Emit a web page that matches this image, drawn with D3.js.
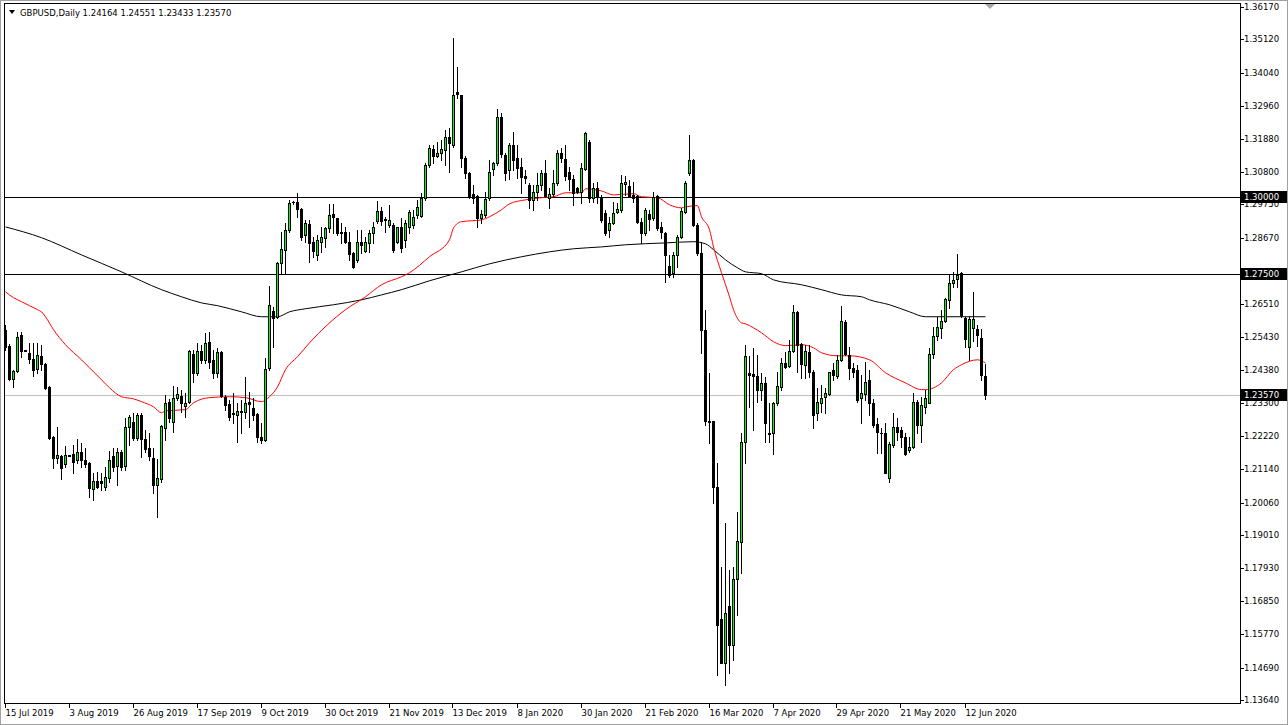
<!DOCTYPE html>
<html><head><meta charset="utf-8">
<script src="https://cdn.jsdelivr.net/npm/d3@7"></script>
<style>
html,body{margin:0;padding:0;background:#fff;overflow:hidden;}
svg{display:block;}
text{font-family:"DejaVu Sans",sans-serif;font-size:8.5px;fill:#000;}
</style></head><body>
<svg id="c" width="1288" height="725"></svg>
<script>
const symbolTitle = "GBPUSD,Daily";
const lastQuote = ["1.24164","1.24551","1.23433","1.23570"];

const opens = [1.2568,1.2516,1.2408,1.2434,1.2551,1.2503,1.2493,1.2473,1.2441,1.2483,1.2457,1.2382,1.2220,1.2152,1.2158,1.2132,1.2161,1.2165,1.2145,1.2171,
1.2145,1.2135,1.2051,1.2077,1.2077,1.2057,1.2087,1.2158,1.2126,1.2171,1.2126,1.2252,1.2269,1.2217,1.2291,1.2213,1.2184,1.2152,1.2064,1.2083,
1.2249,1.2334,1.2269,1.2347,1.2353,1.2321,1.2334,1.2490,1.2428,1.2499,1.2470,1.2529,1.2470,1.2428,1.2496,1.2350,1.2327,1.2298,1.2291,1.2304,
1.2301,1.2334,1.2314,1.2295,1.2220,1.2210,1.2444,1.2629,1.2610,1.2785,1.2828,1.2893,1.2984,1.2984,1.2961,1.2876,1.2912,1.2854,1.2811,1.2854,
1.2867,1.2899,1.2945,1.2932,1.2886,1.2886,1.2854,1.2818,1.2795,1.2854,1.2824,1.2850,1.2883,1.2922,1.2954,1.2928,1.2909,1.2909,1.2854,1.2902,
1.2860,1.2902,1.2909,1.2941,1.2938,1.2997,1.3104,1.3156,1.3133,1.3143,1.3153,1.3195,1.3169,1.3341,1.3331,1.3127,1.3078,1.3010,1.3003,1.2932,
1.2941,1.2997,1.3091,1.3110,1.3260,1.3136,1.3088,1.3169,1.3127,1.3097,1.3068,1.3039,1.2990,1.3016,1.3039,1.3078,1.2997,1.3010,1.3045,1.3143,
1.3123,1.3081,1.3058,1.3029,1.3016,1.3091,1.3179,1.2997,1.3029,1.3000,1.2948,1.2893,1.2915,1.2951,1.2958,1.3042,1.3036,1.3006,1.3003,1.2919,
1.2883,1.2945,1.2932,1.3003,1.2902,1.2883,1.2776,1.2753,1.2811,1.2870,1.2951,1.3078,1.3120,1.2909,1.2818,1.2568,1.2272,1.2272,1.2057,1.1628,
1.1485,1.1671,1.1544,1.1757,1.1879,1.2204,1.2428,1.2425,1.2418,1.2373,1.2395,1.2233,1.2233,1.2330,1.2382,1.2460,1.2451,1.2499,1.2626,1.2522,
1.2454,1.2496,1.2431,1.2298,1.2330,1.2350,1.2360,1.2438,1.2418,1.2470,1.2594,1.2486,1.2444,1.2438,1.2347,1.2360,1.2405,1.2330,1.2262,1.2233,
1.2233,1.2087,1.2194,1.2252,1.2243,1.2220,1.2178,1.2187,1.2334,1.2259,1.2317,1.2330,1.2490,1.2548,1.2574,1.2597,1.2665,1.2720,1.2733,1.2753,
1.2607,1.2512,1.2574,1.2571,1.2542,1.24164];

const highs = [1.2584,1.2522,1.2438,1.2561,1.2561,1.2503,1.2525,1.2525,1.2525,1.2519,1.2460,1.2386,1.2223,1.2252,1.2161,1.2191,1.2161,1.2194,1.2213,1.2200,
1.2184,1.2139,1.2103,1.2106,1.2103,1.2122,1.2174,1.2184,1.2184,1.2178,1.2282,1.2291,1.2298,1.2298,1.2298,1.2243,1.2233,1.2184,1.2148,1.2259,
1.2356,1.2343,1.2386,1.2382,1.2373,1.2363,1.2503,1.2503,1.2525,1.2519,1.2558,1.2561,1.2503,1.2509,1.2499,1.2356,1.2340,1.2363,1.2330,1.2340,
1.2415,1.2366,1.2347,1.2298,1.2265,1.2477,1.2711,1.2642,1.2789,1.2886,1.2915,1.2990,1.2987,1.3013,1.2964,1.2925,1.2925,1.2870,1.2876,1.2902,
1.2902,1.2977,1.2977,1.2932,1.2915,1.2902,1.2886,1.2821,1.2893,1.2893,1.2870,1.2893,1.2919,1.2987,1.2967,1.2935,1.2974,1.2915,1.2902,1.2932,
1.2925,1.2958,1.2958,1.2990,1.3013,1.3110,1.3169,1.3169,1.3179,1.3185,1.3218,1.3224,1.3517,1.3422,1.3331,1.3133,1.3081,1.3039,1.3006,1.2958,
1.3016,1.3120,1.3114,1.3286,1.3273,1.3143,1.3175,1.3211,1.3169,1.3127,1.3088,1.3045,1.3039,1.3078,1.3088,1.3120,1.3029,1.3088,1.3153,1.3159,
1.3169,1.3097,1.3071,1.3032,1.3110,1.3211,1.3185,1.3045,1.3049,1.3006,1.2958,1.2935,1.2984,1.2980,1.3071,1.3068,1.3055,1.3049,1.3006,1.2932,
1.2964,1.2958,1.3016,1.3006,1.2919,1.2886,1.2811,1.2821,1.2876,1.2964,1.3052,1.3201,1.3123,1.2915,1.2854,1.2633,1.2428,1.2272,1.2135,1.1797,
1.1940,1.1788,1.1797,1.1976,1.2233,1.2519,1.2483,1.2509,1.2486,1.2428,1.2415,1.2330,1.2334,1.2431,1.2477,1.2496,1.2535,1.2649,1.2629,1.2525,
1.2519,1.2519,1.2438,1.2379,1.2389,1.2379,1.2431,1.2460,1.2486,1.2646,1.2600,1.2512,1.2460,1.2454,1.2421,1.2464,1.2438,1.2343,1.2282,1.2249,
1.2265,1.2204,1.2298,1.2282,1.2252,1.2233,1.2220,1.2363,1.2340,1.2350,1.2373,1.2509,1.2577,1.2610,1.2633,1.2672,1.2746,1.2756,1.2815,1.2756,
1.2610,1.2610,1.2691,1.2584,1.2571,1.24551];

const lows = [1.2503,1.2405,1.2382,1.2431,1.2480,1.2499,1.2460,1.2418,1.2428,1.2438,1.2376,1.2213,1.2119,1.2135,1.2083,1.2122,1.2158,1.2103,1.2135,1.2122,
1.2122,1.2025,1.2015,1.2054,1.2048,1.2048,1.2074,1.2109,1.2064,1.2113,1.2113,1.2194,1.2210,1.2210,1.2155,1.2171,1.2145,1.2038,1.1960,1.2074,
1.2210,1.2269,1.2236,1.2340,1.2301,1.2285,1.2330,1.2399,1.2421,1.2460,1.2460,1.2444,1.2412,1.2415,1.2350,1.2308,1.2275,1.2265,1.2204,1.2233,
1.2282,1.2252,1.2275,1.2204,1.2200,1.2207,1.2438,1.2512,1.2607,1.2753,1.2753,1.2886,1.2977,1.2935,1.2860,1.2854,1.2789,1.2805,1.2795,1.2821,
1.2837,1.2886,1.2883,1.2876,1.2850,1.2850,1.2795,1.2769,1.2789,1.2818,1.2821,1.2821,1.2850,1.2915,1.2909,1.2886,1.2902,1.2821,1.2850,1.2821,
1.2837,1.2883,1.2899,1.2932,1.2935,1.2990,1.3097,1.3110,1.3130,1.3120,1.3104,1.3081,1.3162,1.3322,1.3097,1.3062,1.2997,1.2980,1.2902,1.2915,
1.2935,1.2990,1.3071,1.3104,1.3130,1.3055,1.3058,1.3088,1.3062,1.3013,1.3045,1.2964,1.2958,1.2990,1.3023,1.3000,1.2964,1.3003,1.3039,1.3114,
1.3055,1.3023,1.2974,1.3013,1.2980,1.3088,1.2984,1.2984,1.2980,1.2919,1.2876,1.2870,1.2912,1.2948,1.2951,1.3006,1.3000,1.2984,1.2915,1.2850,
1.2876,1.2893,1.2925,1.2893,1.2867,1.2724,1.2740,1.2740,1.2772,1.2867,1.2948,1.3071,1.2906,1.2811,1.2493,1.2259,1.2200,1.2005,1.1446,1.1485,
1.1414,1.1453,1.1495,1.1641,1.1778,1.2135,1.2317,1.2243,1.2334,1.2340,1.2204,1.2204,1.2165,1.2324,1.2373,1.2444,1.2447,1.2496,1.2431,1.2412,
1.2412,1.2415,1.2249,1.2275,1.2301,1.2298,1.2356,1.2405,1.2412,1.2467,1.2486,1.2408,1.2415,1.2334,1.2265,1.2340,1.2291,1.2252,1.2168,1.2168,
1.2103,1.2074,1.2187,1.2210,1.2187,1.2161,1.2171,1.2184,1.2233,1.2204,1.2298,1.2330,1.2477,1.2535,1.2542,1.2594,1.2639,1.2707,1.2707,1.2610,
1.2512,1.2470,1.2531,1.2516,1.2405,1.23433];

const closes = [1.2512,1.2408,1.2434,1.2545,1.2499,1.2499,1.2473,1.2438,1.2486,1.2457,1.2379,1.2217,1.2152,1.2161,1.2119,1.2161,1.2158,1.2139,1.2171,1.2145,
1.2132,1.2054,1.2077,1.2057,1.2070,1.2090,1.2145,1.2122,1.2171,1.2122,1.2252,1.2285,1.2217,1.2291,1.2213,1.2181,1.2158,1.2064,1.2087,1.2256,
1.2330,1.2282,1.2347,1.2360,1.2330,1.2330,1.2499,1.2428,1.2499,1.2470,1.2525,1.2464,1.2428,1.2496,1.2353,1.2324,1.2285,1.2295,1.2304,1.2301,
1.2330,1.2327,1.2291,1.2220,1.2210,1.2441,1.2649,1.2607,1.2785,1.2831,1.2893,1.2980,1.2982,1.2961,1.2870,1.2915,1.2850,1.2824,1.2860,1.2870,
1.2899,1.2941,1.2935,1.2883,1.2883,1.2854,1.2815,1.2772,1.2854,1.2844,1.2854,1.2883,1.2902,1.2954,1.2922,1.2925,1.2925,1.2828,1.2902,1.2834,
1.2915,1.2951,1.2935,1.2967,1.2997,1.3104,1.3159,1.3133,1.3143,1.3156,1.3195,1.3175,1.3331,1.3335,1.3127,1.3078,1.3003,1.2997,1.2932,1.2945,
1.2993,1.3081,1.3110,1.3260,1.3140,1.3078,1.3169,1.3120,1.3094,1.3065,1.3062,1.2990,1.3016,1.3039,1.3078,1.3003,1.3010,1.3045,1.3143,1.3127,
1.3068,1.3058,1.3013,1.3016,1.3094,1.3208,1.2997,1.3029,1.3000,1.2925,1.2883,1.2915,1.2948,1.2961,1.3045,1.3049,1.3003,1.2997,1.2919,1.2883,
1.2958,1.2928,1.3000,1.2899,1.2886,1.2811,1.2746,1.2811,1.2870,1.2954,1.3045,1.3120,1.2909,1.2818,1.2568,1.2272,1.2269,1.2057,1.1609,1.1485,
1.1648,1.1544,1.1757,1.1882,1.2204,1.2483,1.2421,1.2418,1.2373,1.2395,1.2265,1.2230,1.2330,1.2386,1.2460,1.2447,1.2499,1.2626,1.2519,1.2457,
1.2499,1.2431,1.2291,1.2334,1.2347,1.2363,1.2431,1.2421,1.2470,1.2597,1.2490,1.2444,1.2431,1.2340,1.2363,1.2399,1.2330,1.2259,1.2236,1.2231,
1.2103,1.2197,1.2252,1.2236,1.2220,1.2165,1.2187,1.2334,1.2259,1.2324,1.2347,1.2490,1.2548,1.2577,1.2597,1.2668,1.2720,1.2730,1.2746,1.2616,
1.2538,1.2603,1.2603,1.2551,1.2421,1.23570];

// Moving averages: bar index + value
const maRedBars   = [0,2,4,6,8,9,10,12,15,19,21,24,26,29,32,34,37,39,40,45,47,51,56,60,64,66,68,70,73,76,85,90,94,99,101,106,111,112,114,119,121,124,126,130,134,137,140,144,145,149,152,157,159,163,166,169,170,173,174,176,177,179,181,182,184,185,187,189,192,195,199,202,204,208,211,216,220,225,229,230,234,237,239,243,245];
const maRedValues = [1.2691,1.2672,1.2659,1.2646,1.2633,1.2626,1.2610,1.2568,1.2519,1.2470,1.2444,1.2405,1.2379,1.2350,1.2343,1.2334,1.2317,1.2298,1.2304,1.2308,1.2330,1.2347,1.2350,1.2347,1.2334,1.2350,1.2382,1.2438,1.2480,1.2525,1.2633,1.2675,1.2714,1.2740,1.2753,1.2805,1.2860,1.2899,1.2919,1.2925,1.2935,1.2958,1.2977,1.2990,1.2997,1.3000,1.3013,1.3013,1.3026,1.3019,1.3006,1.3010,1.3000,1.2997,1.2974,1.2964,1.2967,1.2971,1.2935,1.2893,1.2837,1.2753,1.2675,1.2633,1.2590,1.2587,1.2574,1.2558,1.2529,1.2516,1.2519,1.2509,1.2493,1.2483,1.2483,1.2470,1.2428,1.2395,1.2373,1.2373,1.2395,1.2438,1.2454,1.2470,1.2460];
const maBlackBars   = [0,9,19,29,39,44,49,53,59,64,68,71,75,82,89,94,99,106,114,121,129,136,142,149,155,165,172,175,177,180,183,185,189,192,199,204,209,214,216,221,226,230,245];
const maBlackValues = [1.2902,1.2867,1.2811,1.2756,1.2698,1.2675,1.2655,1.2646,1.2626,1.2610,1.2610,1.2626,1.2636,1.2649,1.2665,1.2681,1.2698,1.2727,1.2756,1.2782,1.2805,1.2821,1.2831,1.2837,1.2844,1.2850,1.2854,1.2847,1.2828,1.2795,1.2769,1.2756,1.2750,1.2730,1.2714,1.2698,1.2681,1.2675,1.2665,1.2649,1.2626,1.2610,1.2610];

const levelLines = [1.30000, 1.27500];
const levelLabels = ["1.30000", "1.27500"];
const bidPrice = 1.23570;
const bidLabel = "1.23570";

// price-scale labels visible on the right axis (1.27590 is hidden under the 1.27500 tag)
const priceTicks = ["1.36170","1.35120","1.34040","1.32960","1.31880","1.30800","1.29750","1.28670","1.26510","1.25430","1.24380","1.23300","1.22220","1.21140","1.20060","1.19010","1.17930","1.16850","1.15770","1.14690","1.13640"];
const dateLabels = ["15 Jul 2019","3 Aug 2019","26 Aug 2019","17 Sep 2019","9 Oct 2019","30 Oct 2019","21 Nov 2019","13 Dec 2019","8 Jan 2020","30 Jan 2020","21 Feb 2020","16 Mar 2020","7 Apr 2020","29 Apr 2020","21 May 2020","12 Jun 2020"];
const dateLabelBars = [0,16,32,48,64,80,96,112,128,144,160,176,192,208,224,240];

// ---------------- drawing ----------------
const W = 1288, H = 725;
const plot = {left:4, top:3, right:1240, bottom:703};
const svg = d3.select("#c");
const N = opens.length;
const bars = opens.map((o,i)=>({i, o, h:highs[i], l:lows[i], c:closes[i]}));

const x = d3.scaleLinear().domain([0, N-1]).range([5.5, 985.5]);
const y = d3.scaleLinear().domain([1.13640, 1.36170]).range([700, 7]);
const py = v => Math.round(y(v));

// window border
svg.append("rect").attr("x",0.5).attr("y",0.5).attr("width",W-1).attr("height",H-1)
  .attr("fill","#fff").attr("stroke","#a0a0a0");

svg.append("defs").append("clipPath").attr("id","clip").append("rect")
  .attr("x",plot.left+1).attr("y",plot.top+1).attr("width",plot.right-plot.left-1).attr("height",plot.bottom-plot.top-1);

const g = svg.append("g").attr("clip-path","url(#clip)");

// bid line
g.append("line").attr("x1",plot.left).attr("x2",plot.right)
  .attr("y1",py(bidPrice)+0.5).attr("y2",py(bidPrice)+0.5)
  .attr("stroke","#c0c0c0").attr("stroke-width",1);

// horizontal levels
g.selectAll("line.level").data(levelLines).join("line").attr("class","level")
  .attr("x1",plot.left).attr("x2",plot.right)
  .attr("y1",d=>py(d)+0.5).attr("y2",d=>py(d)+0.5)
  .attr("stroke","#000").attr("stroke-width",1);

// moving averages
const lineGen = d3.line().x(d=>x(d[0])).y(d=>y(d[1])).curve(d3.curveMonotoneX);
g.append("path").datum(maBlackBars.map((b,k)=>[b, maBlackValues[k]]))
  .attr("d",lineGen).attr("fill","none").attr("stroke","#000").attr("stroke-width",1);
g.append("path").datum(maRedBars.map((b,k)=>[b, maRedValues[k]]))
  .attr("d",lineGen).attr("fill","none").attr("stroke","#ff0000").attr("stroke-width",1);

// wicks
g.selectAll("line.wick").data(bars).join("line").attr("class","wick")
  .attr("x1",d=>x(d.i)).attr("x2",d=>x(d.i))
  .attr("y1",d=>py(d.h)).attr("y2",d=>py(d.l)+1)
  .attr("stroke","#000").attr("stroke-width",1).attr("shape-rendering","crispEdges");

// bodies
bars.forEach(d=>{
  const top = py(Math.max(d.o,d.c)), bot = py(Math.min(d.o,d.c));
  const cx = x(d.i);
  if (bot - top < 1) {
    g.append("line").attr("x1",cx-1.5).attr("x2",cx+1.5).attr("y1",top+0.5).attr("y2",top+0.5)
      .attr("stroke","#000").attr("shape-rendering","crispEdges");
  } else if (d.c >= d.o) {
    g.append("rect").attr("x",cx-1).attr("y",top+0.5).attr("width",2).attr("height",Math.max(0,bot-top))
      .attr("fill","#00ff00").attr("stroke","#000").attr("stroke-width",1);
  } else {
    g.append("rect").attr("x",cx-1.5).attr("y",top).attr("width",3).attr("height",bot-top+1)
      .attr("fill","#000").attr("shape-rendering","crispEdges");
  }
});

// plot frame
svg.append("rect").attr("x",plot.left+0.5).attr("y",plot.top+0.5)
  .attr("width",plot.right-plot.left).attr("height",plot.bottom-plot.top)
  .attr("fill","none").attr("stroke","#000");

// shift marker
svg.append("path").attr("d",`M985,4 L995,4 L990,9 Z`).attr("fill","#a8a8a8");

// header
svg.append("path").attr("d","M9,10 L15,10 L12,14 Z").attr("fill","#000");
svg.append("text").attr("x",20).attr("y",16).text(symbolTitle + "  " + lastQuote.join(" "));

// price axis
const ax = svg.append("g");
priceTicks.forEach(t=>{
  const v = +t, yy = py(v)+0.5;
  ax.append("line").attr("x1",plot.right+1).attr("x2",plot.right+4).attr("y1",yy).attr("y2",yy).attr("stroke","#000");
  ax.append("text").attr("x",plot.right+4).attr("y",yy).attr("dy","0.35em").text(t);
});
function tag(v, label){
  const yy = py(v)+0.5;
  ax.append("rect").attr("x",plot.right+1).attr("y",yy-6.5).attr("width",46).attr("height",12).attr("fill","#000");
  ax.append("text").attr("x",plot.right+4).attr("y",yy-0.5).attr("dy","0.35em").style("fill","#fff").text(label);
}
levelLines.forEach((v,k)=>tag(v, levelLabels[k]));
tag(bidPrice, bidLabel);

// time axis
dateLabelBars.forEach((b,k)=>{
  const xx = Math.round(x(b)) - 0.5;
  ax.append("line").attr("x1",xx).attr("x2",xx).attr("y1",plot.bottom+1).attr("y2",plot.bottom+5).attr("stroke","#000");
  ax.append("text").attr("x",xx).attr("y",716).text(dateLabels[k]);
});
</script>
</body></html>
